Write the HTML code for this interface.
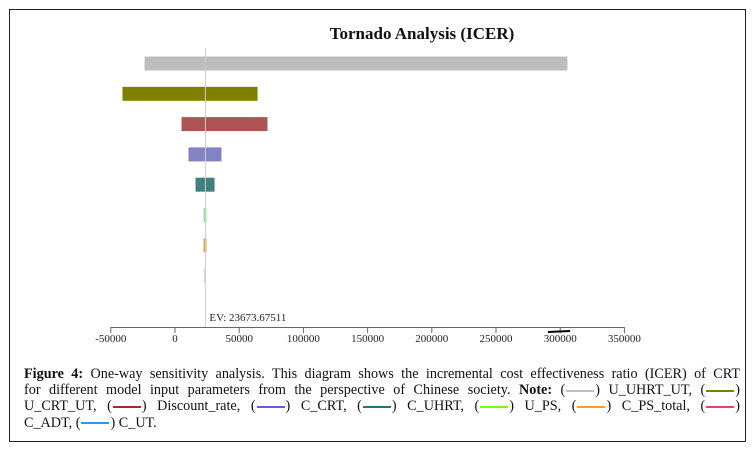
<!DOCTYPE html>
<html><head><meta charset="utf-8"><style>
body{margin:0;width:752px;height:453px;background:#fff;overflow:hidden;font-family:"Liberation Serif",serif}
#frame{position:absolute;left:9px;top:9px;width:735px;height:431px;border:1px solid #222}
#cap{position:absolute;left:24px;top:366px;width:716px;font-size:14.2px;line-height:16.2px;color:#111}
#cap div{text-align:justify;text-align-last:justify;white-space:nowrap}
#cap div.last{text-align-last:left}
.l{display:inline-block;width:28px;height:2px;vertical-align:middle;margin:0 1px}
</style></head><body>
<div id="frame"></div>
<svg id="chart" width="752" height="360" style="position:absolute;left:0;top:0"></svg>
<div id="cap">
<div><b>Figure 4:</b> One-way sensitivity analysis. This diagram shows the incremental cost effectiveness ratio (ICER) of CRT</div>
<div>for different model input parameters from the perspective of Chinese society. <b>Note:</b> (<span class="l" style="background:#c0c0c0"></span>) U_UHRT_UT, (<span class="l" style="background:#808000"></span>)</div>
<div>U_CRT_UT, (<span class="l" style="background:#a52a2a"></span>) Discount_rate, (<span class="l" style="background:#7b52d9"></span>) C_CRT, (<span class="l" style="background:#2f6f6f"></span>) C_UHRT, (<span class="l" style="background:#7cfc00"></span>) U_PS, (<span class="l" style="background:#f0a030"></span>) C_PS_total, (<span class="l" style="background:#f04060"></span>)</div>
<div class="last">C_ADT, (<span class="l" style="background:#3399dd"></span>) C_UT.</div>
</div>
<script>
const params=["U_UHRT_UT","U_CRT_UT","Discount_rate","C_CRT","C_UHRT","U_PS","C_PS_total","C_ADT"];
const lows=[-24100,-41300,4700,10100,15600,21800,21800,22600];
const highs=[306000,64700,72400,36600,31200,24900,24900,24100];
const colors=["#bdbdbd","#808000","#ad5353","#8383c4","#3f7f7f","#90ee90","#e5a83c","#f08080"];
const ticks=[-50000,0,50000,100000,150000,200000,250000,300000,350000];
const ev=23673.67511;
const NS="http://www.w3.org/2000/svg",svg=document.getElementById('chart');
const x=v=>175+(v/50000)*64.2;
const y=i=>56+i*30.3;
function mk(t,a){const e=document.createElementNS(NS,t);for(const k in a)e.setAttribute(k,a[k]);svg.appendChild(e);return e;}
let t=mk('text',{x:422,y:39,'text-anchor':'middle','font-size':17,'font-weight':'bold','font-family':'Liberation Serif,serif',fill:'#111'});t.textContent='Tornado Analysis (ICER)';

params.forEach((p,i)=>{const r=mk('rect',{x:x(lows[i]),y:y(i),width:x(highs[i])-x(lows[i]),height:15,fill:colors[i],stroke:'#fff','stroke-width':1});

});
let evl=mk('line',{x1:x(ev),x2:x(ev),y1:48,y2:327,stroke:'#ccc','stroke-width':1});

let evt=mk('text',{x:x(ev)+4,y:321,'font-size':11,fill:'#222'});evt.textContent='EV: '+ev;

let ax=mk('line',{x1:x(-50000),x2:x(350000),y1:327.5,y2:327.5,stroke:'#666','stroke-width':1});

ticks.forEach(v=>{const l=mk('line',{x1:x(v),x2:x(v),y1:327,y2:333,stroke:'#666'});

const tx=mk('text',{x:x(v),y:342,'text-anchor':'middle','font-size':11,fill:'#222'});tx.textContent=v;
});
let m=mk('line',{x1:548,x2:570,y1:332,y2:331,stroke:'#000','stroke-width':2});

</script>
</body></html>
